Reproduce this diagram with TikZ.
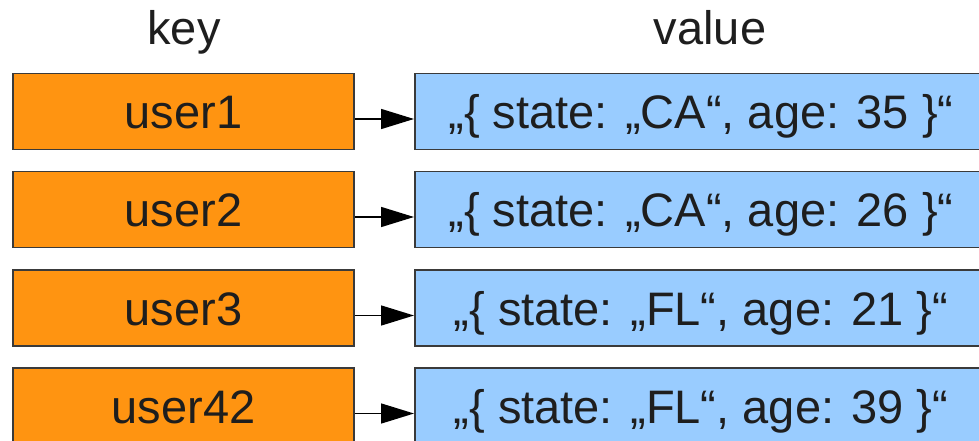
\documentclass[tikz,border=0pt]{standalone}
\usepackage{fontspec}
\setmainfont{Liberation Sans}
\usetikzlibrary{arrows.meta}
\definecolor{keyfill}{HTML}{FF9411}
\definecolor{valfill}{HTML}{99CCFF}
\definecolor{edgecol}{HTML}{3A3A3A}
\definecolor{inkcol}{HTML}{1E1E1E}
\begin{document}
\begin{tikzpicture}[x=1pt,y=-1pt,
  bigfont/.style={font=\fontsize{47}{56}\selectfont},
  keybox/.style={draw=edgecol, line width=1.5pt, fill=keyfill, minimum width=341pt, minimum height=76pt, inner sep=0pt, text=inkcol, bigfont, text height=34pt, text depth=0pt},
  valbox/.style={draw=edgecol, line width=1.5pt, fill=valfill, minimum width=574pt, minimum height=76pt, inner sep=0pt, anchor=west},
  valtext/.style={text=inkcol, bigfont, inner sep=0pt, anchor=base},
  head/.style={text=inkcol, bigfont, inner sep=0pt, anchor=base},
  link/.style={draw=black, line width=1.5pt, -{Triangle[length=33pt,width=20pt]}}]
\useasboundingbox (0,0) rectangle (979,441);
\clip (0,0) rectangle (979,441);
\fill[white] (0,0) rectangle (979,441);
\node[head] (hkey) at (184,45) {key};
\node[head] (hval) at (710,45) {value};
\foreach \i/\yc/\name/\txt in {1/111.5/user1/{„\{ state: „CA“, age: 35 \}“},
                               2/209.5/user2/{„\{ state: „CA“, age: 26 \}“},
                               3/308/user3/{„\{ state: „FL“, age: 21 \}“},
                               4/406/user42/{„\{ state: „FL“, age: 39 \}“}}{
  \node[keybox] (k\i) at (183.5,\yc) {\name};
  \node[valbox] (v\i) at (414,\yc) {};
  \node[valtext] (t\i) at (701,\yc+17) {\txt};
  \draw[link] ([yshift=-7.5pt]k\i.east) -- ([yshift=-7.5pt]v\i.west);
}
\end{tikzpicture}
\end{document}
